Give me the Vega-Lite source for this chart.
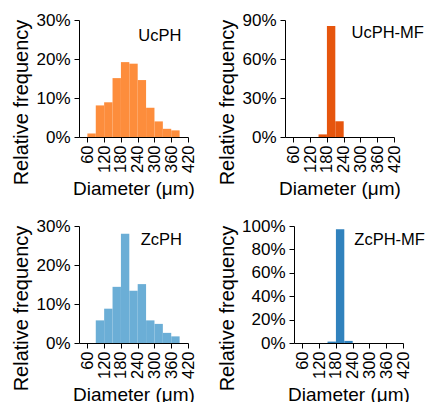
{
  "$schema": "https://vega.github.io/schema/vega-lite/v6.json",
  "padding": {"left": 11, "top": 11, "right": 0, "bottom": 0},
  "config": {
    "font": "Liberation Sans",
    "view": {"stroke": null},
    "axis": {
      "domainColor": "black",
      "tickColor": "black",
      "labelColor": "black",
      "titleColor": "black",
      "grid": false,
      "tickSize": 5,
      "labelFontSize": 17,
      "titleFontSize": 20,
      "titleFontWeight": "normal",
      "labelFont": "Liberation Sans",
      "titleFont": "Liberation Sans",
      "labelFlush": false,
      "labelBound": false
    },
    "axisX": {"labelFontSize": 16.5, "labelAngle": -90, "labelPadding": 3, "titlePadding": 7, "titleFontSize": 19},
    "axisY": {"labelPadding": 4, "titlePadding": 4, "titleY": 82}
  },
  "datasets": {
    "ucph": [
      {"start": 60, "end": 90, "freq": 0.009},
      {"start": 90, "end": 120, "freq": 0.081},
      {"start": 120, "end": 150, "freq": 0.089},
      {"start": 150, "end": 180, "freq": 0.151},
      {"start": 180, "end": 210, "freq": 0.192},
      {"start": 210, "end": 240, "freq": 0.188},
      {"start": 240, "end": 270, "freq": 0.146},
      {"start": 270, "end": 300, "freq": 0.075},
      {"start": 300, "end": 330, "freq": 0.040},
      {"start": 330, "end": 360, "freq": 0.021},
      {"start": 360, "end": 390, "freq": 0.017}
    ],
    "ucphmf": [
      {"start": 150, "end": 180, "freq": 0.02},
      {"start": 180, "end": 210, "freq": 0.854},
      {"start": 210, "end": 240, "freq": 0.121}
    ],
    "zcph": [
      {"start": 90, "end": 120, "freq": 0.058},
      {"start": 120, "end": 150, "freq": 0.088},
      {"start": 150, "end": 180, "freq": 0.144},
      {"start": 180, "end": 210, "freq": 0.280},
      {"start": 210, "end": 240, "freq": 0.134},
      {"start": 240, "end": 270, "freq": 0.151},
      {"start": 270, "end": 300, "freq": 0.058},
      {"start": 300, "end": 330, "freq": 0.049},
      {"start": 330, "end": 360, "freq": 0.026},
      {"start": 360, "end": 390, "freq": 0.017}
    ],
    "zcphmf": [
      {"start": 150, "end": 180, "freq": 0.012},
      {"start": 180, "end": 210, "freq": 0.972},
      {"start": 210, "end": 240, "freq": 0.018}
    ]
  },
  "spacing": 18,
  "vconcat": [
    {
      "spacing": 20,
      "hconcat": [
        {
          "width": 109, "height": 117,
          "layer": [
            {
              "data": {"name": "ucph"},
              "mark": {"type": "bar", "color": "#FD8D3C"},
              "encoding": {
                "x": {"field": "start", "type": "quantitative", "scale": {"domain": [30, 420], "nice": false}, "axis": {"values": [60, 120, 180, 240, 300, 360, 420], "tickCount": 20, "title": "Diameter (μm)", "labelOverlap": false}},
                "x2": {"field": "end"},
                "y": {"field": "freq", "type": "quantitative", "scale": {"domain": [0, 0.3], "nice": false}, "axis": {"values": [0, 0.1, 0.2, 0.3], "tickCount": 20, "format": ".0%", "title": "Relative frequency", "labelOverlap": false}},
                "y2": {"datum": 0}
              }
            },
            {
              "data": {"values": [{}]},
              "mark": {"type": "text", "text": "UcPH", "align": "left", "baseline": "middle", "fontSize": 16.5, "font": "Liberation Sans", "color": "black"},
              "encoding": {"x": {"datum": 242}, "y": {"datum": 0.26}}
            }
          ]
        },
        {
          "width": 109, "height": 117,
          "layer": [
            {
              "data": {"name": "ucphmf"},
              "mark": {"type": "bar", "color": "#E6550D"},
              "encoding": {
                "x": {"field": "start", "type": "quantitative", "scale": {"domain": [30, 420], "nice": false}, "axis": {"values": [60, 120, 180, 240, 300, 360, 420], "tickCount": 20, "title": "Diameter (μm)", "labelOverlap": false}},
                "x2": {"field": "end"},
                "y": {"field": "freq", "type": "quantitative", "scale": {"domain": [0, 0.9], "nice": false}, "axis": {"values": [0, 0.3, 0.6, 0.9], "tickCount": 20, "format": ".0%", "title": "Relative frequency", "labelOverlap": false}},
                "y2": {"datum": 0}
              }
            },
            {
              "data": {"values": [{}]},
              "mark": {"type": "text", "text": "UcPH-MF", "align": "left", "baseline": "middle", "fontSize": 16.5, "font": "Liberation Sans", "color": "black"},
              "encoding": {"x": {"datum": 268}, "y": {"datum": 0.8}}
            }
          ]
        }
      ]
    },
    {
      "spacing": 20,
      "hconcat": [
        {
          "width": 109, "height": 117,
          "layer": [
            {
              "data": {"name": "zcph"},
              "mark": {"type": "bar", "color": "#6BAED6"},
              "encoding": {
                "x": {"field": "start", "type": "quantitative", "scale": {"domain": [30, 420], "nice": false}, "axis": {"values": [60, 120, 180, 240, 300, 360, 420], "tickCount": 20, "title": "Diameter (μm)", "labelOverlap": false}},
                "x2": {"field": "end"},
                "y": {"field": "freq", "type": "quantitative", "scale": {"domain": [0, 0.3], "nice": false}, "axis": {"values": [0, 0.1, 0.2, 0.3], "tickCount": 20, "format": ".0%", "title": "Relative frequency", "labelOverlap": false}},
                "y2": {"datum": 0}
              }
            },
            {
              "data": {"values": [{}]},
              "mark": {"type": "text", "text": "ZcPH", "align": "left", "baseline": "middle", "fontSize": 16.5, "font": "Liberation Sans", "color": "black"},
              "encoding": {"x": {"datum": 251}, "y": {"datum": 0.264}}
            }
          ]
        },
        {
          "width": 109, "height": 117,
          "layer": [
            {
              "data": {"name": "zcphmf"},
              "mark": {"type": "bar", "color": "#3182BD"},
              "encoding": {
                "x": {"field": "start", "type": "quantitative", "scale": {"domain": [30, 420], "nice": false}, "axis": {"values": [60, 120, 180, 240, 300, 360, 420], "tickCount": 20, "title": "Diameter (μm)", "labelOverlap": false}},
                "x2": {"field": "end"},
                "y": {"field": "freq", "type": "quantitative", "scale": {"domain": [0, 1], "nice": false}, "axis": {"values": [0, 0.2, 0.4, 0.6, 0.8, 1], "tickCount": 20, "format": ".0%", "title": "Relative frequency", "labelOverlap": false}},
                "y2": {"datum": 0}
              }
            },
            {
              "data": {"values": [{}]},
              "mark": {"type": "text", "text": "ZcPH-MF", "align": "left", "baseline": "middle", "fontSize": 16.5, "font": "Liberation Sans", "color": "black"},
              "encoding": {"x": {"datum": 246}, "y": {"datum": 0.88}}
            }
          ]
        }
      ]
    }
  ]
}
